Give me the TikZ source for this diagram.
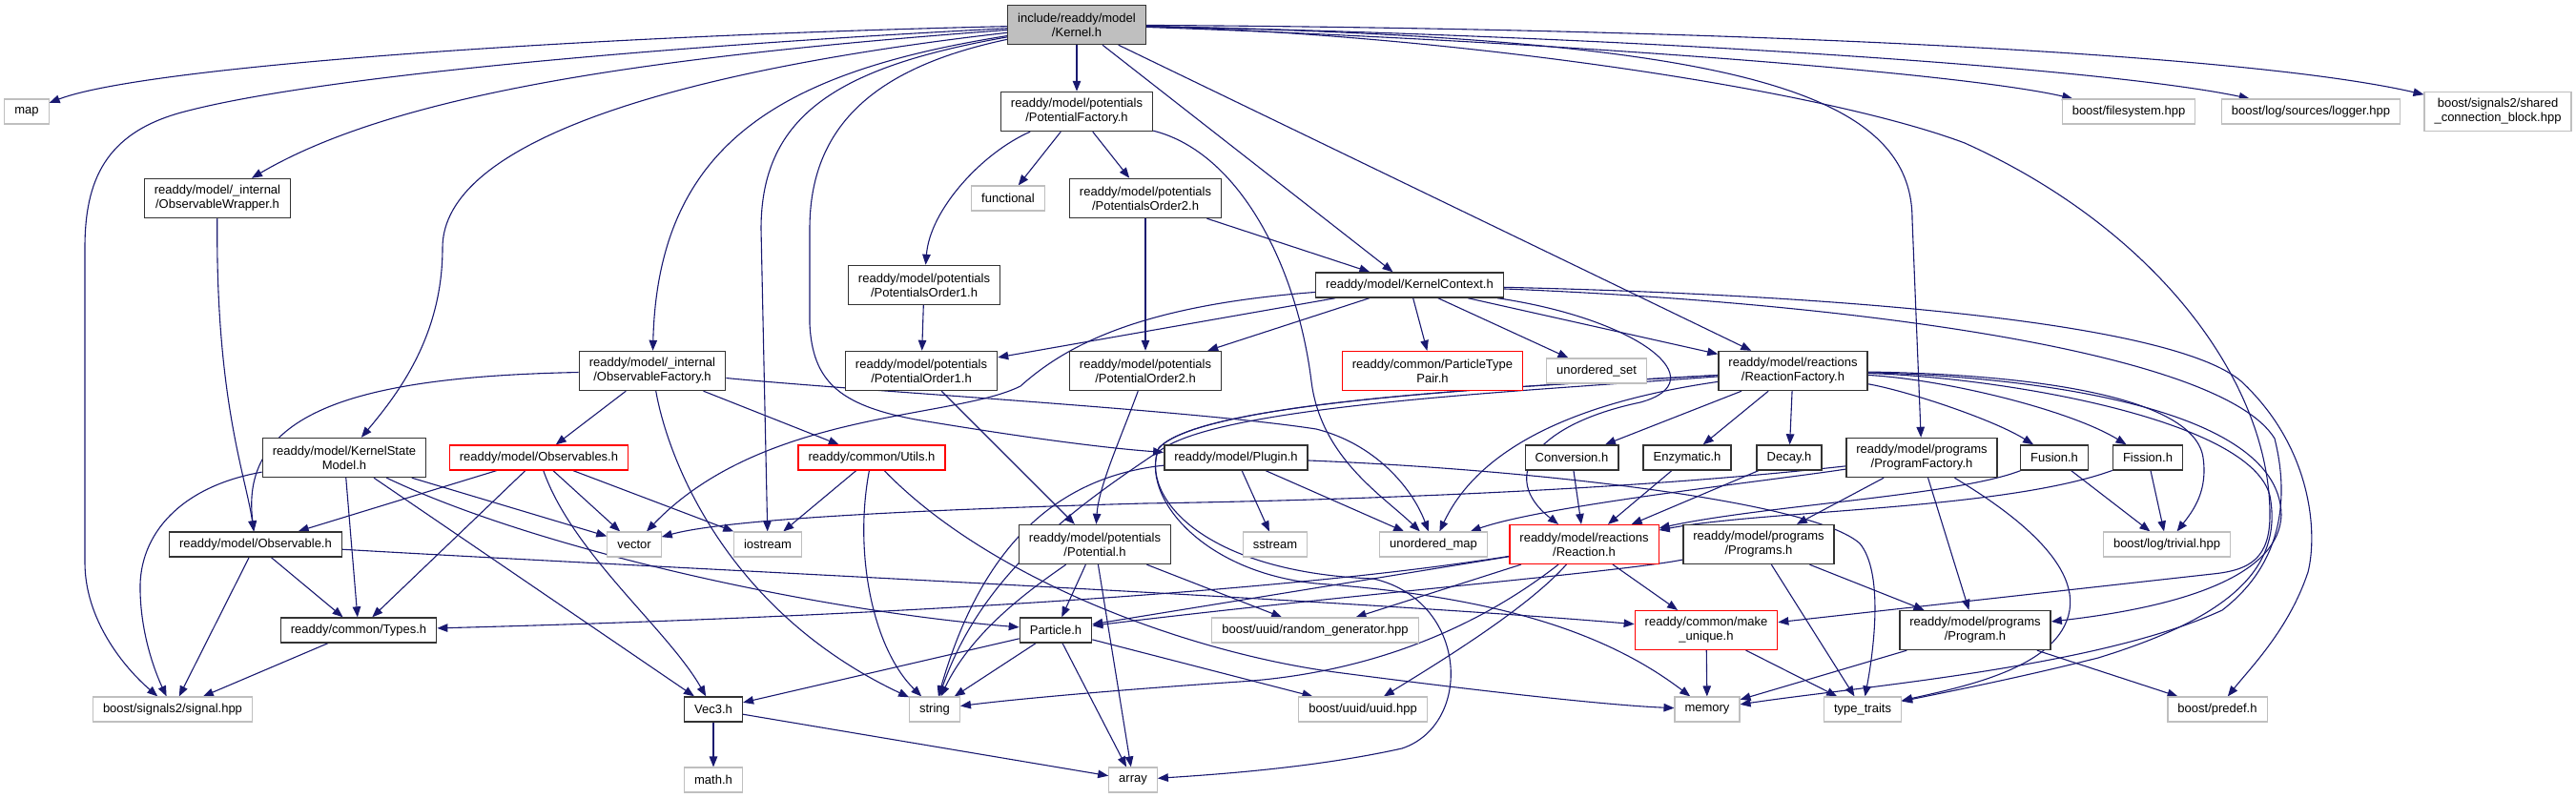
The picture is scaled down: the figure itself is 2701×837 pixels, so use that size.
\documentclass[tikz,border=0pt]{standalone}
\usepackage{fontspec}
\setsansfont{Liberation Sans}
\usepackage{tikz}
\usetikzlibrary{arrows.meta, backgrounds}
\definecolor{edgeblue}{HTML}{191970}
\definecolor{hdrborder}{HTML}{333333}
\definecolor{sysborder}{HTML}{BFBFBF}
\definecolor{cutborder}{HTML}{FF0000}
\definecolor{rootfill}{HTML}{BFBFBF}

\begin{document}
\begin{tikzpicture}[x=1pt, y=-1pt, font=\sffamily\fontsize{13}{15}\selectfont,
    >={Triangle[length=11pt, width=8.5pt]}]
  % Box Styles
  \tikzstyle{hdrbox} = [draw=hdrborder, fill=white, line width=1.4pt, inner xsep=10.5pt,
    inner ysep=0pt, minimum height=26pt, align=center]
  \tikzstyle{sysbox} = [hdrbox, draw=sysborder, line width=1.1pt]
  \tikzstyle{cutbox} = [hdrbox, draw=cutborder, line width=1.1pt]
  \tikzstyle{rootbox} = [hdrbox, fill=rootfill]
  \tikzstyle{tallbox} = [minimum height=41pt]
  \tikzstyle{dep} = [->, draw=edgeblue, line width=1.1pt]

  \useasboundingbox (0,0) rectangle (2701,837);

  % Row 0: the file itself
  \node[rootbox, tallbox] (kernel) at (1129,26) {include/readdy/model\\/Kernel.h};

  % Row 1
  \node[sysbox] (map) at (28,117) {map};
  \node[hdrbox, tallbox] (potfac) at (1129,117) {readdy/model/potentials\\/PotentialFactory.h};
  \node[sysbox] (filesys) at (2232,117) {boost/filesystem.hpp};
  \node[sysbox] (logger) at (2423,117) {boost/log/sources/logger.hpp};
  \node[sysbox, tallbox] (shared) at (2619,117) {boost/signals2/shared\\\_connection\_block.hpp};

  % Row 2
  \node[hdrbox, tallbox] (obswrap) at (228,208) {readdy/model/\_internal\\/ObservableWrapper.h};
  \node[sysbox] (functional) at (1057,208) {functional};
  \node[hdrbox, tallbox] (pots2) at (1201,208) {readdy/model/potentials\\/PotentialsOrder2.h};

  % Row 3
  \node[hdrbox, tallbox] (pots1) at (969,299) {readdy/model/potentials\\/PotentialsOrder1.h};
  \node[hdrbox] (kctx) at (1478,299) {readdy/model/KernelContext.h};

  % Row 4
  \node[hdrbox, tallbox] (obsfac) at (684,389) {readdy/model/\_internal\\/ObservableFactory.h};
  \node[hdrbox, tallbox] (pot1) at (966,389) {readdy/model/potentials\\/PotentialOrder1.h};
  \node[hdrbox, tallbox] (pot2) at (1201,389) {readdy/model/potentials\\/PotentialOrder2.h};
  \node[cutbox, tallbox] (ptpair) at (1502,389) {readdy/common/ParticleType\\Pair.h};
  \node[sysbox] (uset) at (1674,389) {unordered\_set};
  \node[hdrbox, tallbox] (reacfac) at (1880,389) {readdy/model/reactions\\/ReactionFactory.h};

  % Row 5
  \node[hdrbox, tallbox] (ksm) at (361,480) {readdy/model/KernelState\\Model.h};
  \node[cutbox] (obsvs) at (565,480) {readdy/model/Observables.h};
  \node[cutbox] (utils) at (914,480) {readdy/common/Utils.h};
  \node[hdrbox] (plugin) at (1296,480) {readdy/model/Plugin.h};
  \node[hdrbox] (conv) at (1648,480) {Conversion.h};
  \node[hdrbox] (enzym) at (1769,480) {Enzymatic.h};
  \node[hdrbox] (decay) at (1876,480) {Decay.h};
  \node[hdrbox, tallbox] (progfac) at (2015,480) {readdy/model/programs\\/ProgramFactory.h};
  \node[hdrbox] (fusion) at (2154,480) {Fusion.h};
  \node[hdrbox] (fission) at (2252,480) {Fission.h};

  % Row 6
  \node[hdrbox] (observable) at (268,571) {readdy/model/Observable.h};
  \node[sysbox] (vector) at (665,571) {vector};
  \node[sysbox] (iostream) at (805,571) {iostream};
  \node[hdrbox, tallbox] (potential) at (1148,571) {readdy/model/potentials\\/Potential.h};
  \node[sysbox] (sstream) at (1337,571) {sstream};
  \node[sysbox] (umap) at (1503,571) {unordered\_map};
  \node[cutbox, tallbox] (reaction) at (1661,571) {readdy/model/reactions\\/Reaction.h};
  \node[hdrbox, tallbox] (programs) at (1844,571) {readdy/model/programs\\/Programs.h};
  \node[sysbox] (trivial) at (2272,571) {boost/log/trivial.hpp};

  % Row 7
  \node[hdrbox] (types) at (376,661) {readdy/common/Types.h};
  \node[hdrbox] (particle) at (1107,661) {Particle.h};
  \node[sysbox] (randgen) at (1379,661) {boost/uuid/random\_generator.hpp};
  \node[cutbox, tallbox] (makeuniq) at (1789,661) {readdy/common/make\\\_unique.h};
  \node[hdrbox, tallbox] (program) at (2071,661) {readdy/model/programs\\/Program.h};

  % Row 8
  \node[sysbox] (signal) at (181,744) {boost/signals2/signal.hpp};
  \node[hdrbox] (vec3) at (748,744) {Vec3.h};
  \node[sysbox] (string) at (980,744) {string};
  \node[sysbox] (uuid) at (1429,744) {boost/uuid/uuid.hpp};
  \node[sysbox] (memory) at (1790,744) {memory};
  \node[sysbox] (typetr) at (1953,744) {type\_traits};
  \node[sysbox] (predef) at (2325,744) {boost/predef.h};

  % Row 9
  \node[sysbox] (math) at (748,818) {math.h};
  \node[sysbox] (array) at (1188,818) {array};

  \begin{scope}[on background layer]
  % Includes of Kernel.h
  \draw[dep] (kernel) .. controls (600,38) and (150,70) .. (map);
  \draw[dep] (kernel) .. controls (700,48) and (330,80) .. (190,118) .. controls (110,140) and (89,190) .. (89,260)
    -- (89,590) .. controls (89,650) and (130,700) .. (signal);
  \draw[dep] (kernel) .. controls (700,58) and (420,95) .. (obswrap);
  \draw[dep] (kernel) .. controls (700,75) and (464,150) .. (464,260) .. controls (464,350) and (420,410) .. (ksm);
  \draw[dep] (kernel) .. controls (820,75) and (690,150) .. (obsfac);
  \draw[dep] (kernel) .. controls (880,70) and (798,120) .. (798,240) -- (iostream);
  \draw[dep] (kernel) .. controls (920,70) and (849,130) .. (849,240) -- (849,340)
    .. controls (852,400) and (880,425) .. (960,440) .. controls (1080,460) and (1160,470) .. (plugin);
  \draw[dep] (kernel) -- (potfac);
  \draw[dep] (kernel) -- (kctx);
  \draw[dep] (kernel) -- (reacfac);
  \draw[dep] (kernel) .. controls (1800,40) and (2005,90) .. (2005,230) -- (progfac);
  \draw[dep] (kernel) .. controls (1500,35) and (1900,90) .. (2060,150) .. controls (2260,240) and (2380,400) .. (2380,540)
    .. controls (2380,585) and (2360,598) .. (2320,602) -- (makeuniq);
  \draw[dep] (kernel) .. controls (1600,42) and (2050,75) .. (filesys);
  \draw[dep] (kernel) .. controls (1700,38) and (2200,70) .. (logger);
  \draw[dep] (kernel) .. controls (1800,30) and (2350,55) .. (shared);

  % Potentials
  \draw[dep] (potfac) -- (functional);
  \draw[dep] (potfac) -- (pots2);
  \draw[dep] (potfac) .. controls (1030,160) and (975,220) .. (pots1);
  \draw[dep] (potfac) .. controls (1300,160) and (1360,280) .. (1375,400) .. controls (1385,480) and (1450,520) .. (umap);
  \draw[dep] (pots2) -- (kctx);
  \draw[dep] (pots2) -- (pot2);
  \draw[dep] (pots1) -- (pot1);
  \draw[dep] (pot1) -- (potential);
  \draw[dep] (pot2) .. controls (1175,460) and (1152,510) .. (potential);
  \draw[dep] (potential) -- (particle);
  \draw[dep] (potential) .. controls (1085,615) and (1020,660) .. (string);
  \draw[dep] (potential) -- (array);
  \draw[dep] (potential) -- (randgen);

  % KernelContext
  \draw[dep] (kctx) -- (pot1);
  \draw[dep] (kctx) -- (pot2);
  \draw[dep] (kctx) .. controls (1200,320) and (1120,360) .. (1070,405) .. controls (1000,440) and (800,430) .. (vector);
  \draw[dep] (kctx) -- (ptpair);
  \draw[dep] (kctx) -- (uset);
  \draw[dep] (kctx) -- (reacfac);
  \draw[dep] (kctx) .. controls (1720,335) and (1800,400) .. (1720,422) .. controls (1610,445) and (1570,500) .. (reaction);
  \draw[dep] (kctx) .. controls (1950,310) and (2280,340) .. (2350,400) .. controls (2425,470) and (2430,560) .. (2420,600)
    .. controls (2400,660) and (2360,700) .. (predef);
  \draw[dep] (kctx) .. controls (1950,318) and (2330,370) .. (2385,460) .. controls (2400,520) and (2395,590) .. (2330,640)
    .. controls (2200,700) and (1950,720) .. (memory);

  % ReactionFactory
  \draw[dep] (reacfac) -- (conv);
  \draw[dep] (reacfac) -- (enzym);
  \draw[dep] (reacfac) -- (decay);
  \draw[dep] (reacfac) .. controls (2000,410) and (2090,440) .. (fusion);
  \draw[dep] (reacfac) .. controls (2040,398) and (2170,430) .. (fission);
  \draw[dep] (reacfac) .. controls (2100,392) and (2300,410) .. (2310,480) .. controls (2315,515) and (2300,535) .. (trivial);
  \draw[dep] (reacfac) .. controls (2100,396) and (2360,440) .. (2380,520) .. controls (2395,600) and (2330,650) .. (2200,690)
    .. controls (2120,710) and (2060,722) .. (typetr);
  \draw[dep] (reacfac) .. controls (2100,394) and (2390,420) .. (2392,540) .. controls (2390,600) and (2300,635) .. (program);
  \draw[dep] (reacfac) .. controls (1700,415) and (1560,450) .. (umap);
  \draw[dep] (reacfac) .. controls (1600,410) and (1290,425) .. (1220,470) .. controls (1130,530) and (1030,600) .. (string);
  \draw[dep] (reacfac) .. controls (1600,405) and (1260,420) .. (1215,470) .. controls (1195,520) and (1260,600) .. (1380,612)
    .. controls (1560,625) and (1680,660) .. (memory);
  \draw[dep] (reacfac) .. controls (1600,405) and (1260,420) .. (1215,470) .. controls (1195,520) and (1260,600) .. (1440,607)
    .. controls (1540,630) and (1545,760) .. (1470,785) .. controls (1380,805) and (1280,812) .. (array);

  % ProgramFactory and programs
  \draw[dep] (progfac) -- (programs);
  \draw[dep] (progfac) -- (program);
  \draw[dep] (progfac) .. controls (1850,505) and (1620,530) .. (umap);
  \draw[dep] (progfac) .. controls (1700,515) and (1400,525) .. (1200,528) .. controls (950,535) and (760,545) .. (vector);
  \draw[dep] (progfac) .. controls (2080,520) and (2180,580) .. (2170,640) .. controls (2160,700) and (2060,720) .. (typetr);
  \draw[dep] (programs) .. controls (1700,600) and (1400,625) .. (particle);
  \draw[dep] (programs) -- (program);
  \draw[dep] (programs) -- (typetr);
  \draw[dep] (program) -- (memory);
  \draw[dep] (program) -- (predef);

  % Plugin and Utils
  \draw[dep] (plugin) .. controls (1110,500) and (1030,570) .. (string);
  \draw[dep] (plugin) -- (sstream);
  \draw[dep] (plugin) -- (umap);
  \draw[dep] (plugin) .. controls (1600,492) and (1900,525) .. (1950,570) .. controls (1975,600) and (1965,680) .. (typetr);
  \draw[dep] (utils) -- (iostream);
  \draw[dep] (utils) .. controls (895,580) and (915,680) .. (string);
  \draw[dep] (utils) .. controls (1040,610) and (1250,685) .. (1400,705) .. controls (1560,726) and (1690,740) .. (memory);

  % Observables
  \draw[dep] (obswrap) .. controls (226,420) and (258,500) .. (observable);
  \draw[dep] (obsfac) .. controls (380,395) and (250,430) .. (observable);
  \draw[dep] (obsfac) -- (obsvs);
  \draw[dep] (obsfac) -- (utils);
  \draw[dep] (obsfac) .. controls (700,480) and (760,640) .. (string);
  \draw[dep] (obsfac) .. controls (900,410) and (1250,430) .. (1380,450) .. controls (1440,465) and (1480,510) .. (umap);
  \draw[dep] (obsvs) -- (observable);
  \draw[dep] (obsvs) -- (types);
  \draw[dep] (obsvs) .. controls (600,580) and (700,660) .. (vec3);
  \draw[dep] (obsvs) -- (vector);
  \draw[dep] (obsvs) -- (iostream);
  \draw[dep] (ksm) .. controls (190,510) and (145,560) .. (147,620) .. controls (148,670) and (165,710) .. (signal);
  \draw[dep] (ksm) -- (types);
  \draw[dep] (ksm) -- (vec3);
  \draw[dep] (ksm) .. controls (560,575) and (850,640) .. (particle);
  \draw[dep] (ksm) -- (vector);
  \draw[dep] (observable) -- (types);
  \draw[dep] (observable) -- (signal);
  \draw[dep] (observable) .. controls (700,596) and (1400,628) .. (makeuniq);
  \draw[dep] (types) -- (signal);

  % Reactions
  \draw[dep] (conv) -- (reaction);
  \draw[dep] (enzym) -- (reaction);
  \draw[dep] (decay) -- (reaction);
  \draw[dep] (fusion) .. controls (2050,520) and (1850,530) .. (reaction);
  \draw[dep] (fission) .. controls (2100,535) and (1850,535) .. (reaction);
  \draw[dep] (fusion) -- (trivial);
  \draw[dep] (fission) -- (trivial);
  \draw[dep] (reaction) .. controls (1300,628) and (800,650) .. (types);
  \draw[dep] (reaction) -- (particle);
  \draw[dep] (reaction) -- (randgen);
  \draw[dep] (reaction) .. controls (1560,650) and (1450,705) .. (1300,715) .. controls (1150,725) and (1050,735) .. (string);
  \draw[dep] (reaction) .. controls (1600,640) and (1500,700) .. (uuid);
  \draw[dep] (reaction) -- (makeuniq);
  \draw[dep] (makeuniq) -- (memory);
  \draw[dep] (makeuniq) -- (typetr);

  % Particle and Vec3
  \draw[dep] (particle) -- (vec3);
  \draw[dep] (particle) -- (string);
  \draw[dep] (particle) -- (array);
  \draw[dep] (particle) -- (uuid);
  \draw[dep] (vec3) -- (math);
  \draw[dep] (vec3) -- (array);
  \end{scope}
\end{tikzpicture}
\end{document}
